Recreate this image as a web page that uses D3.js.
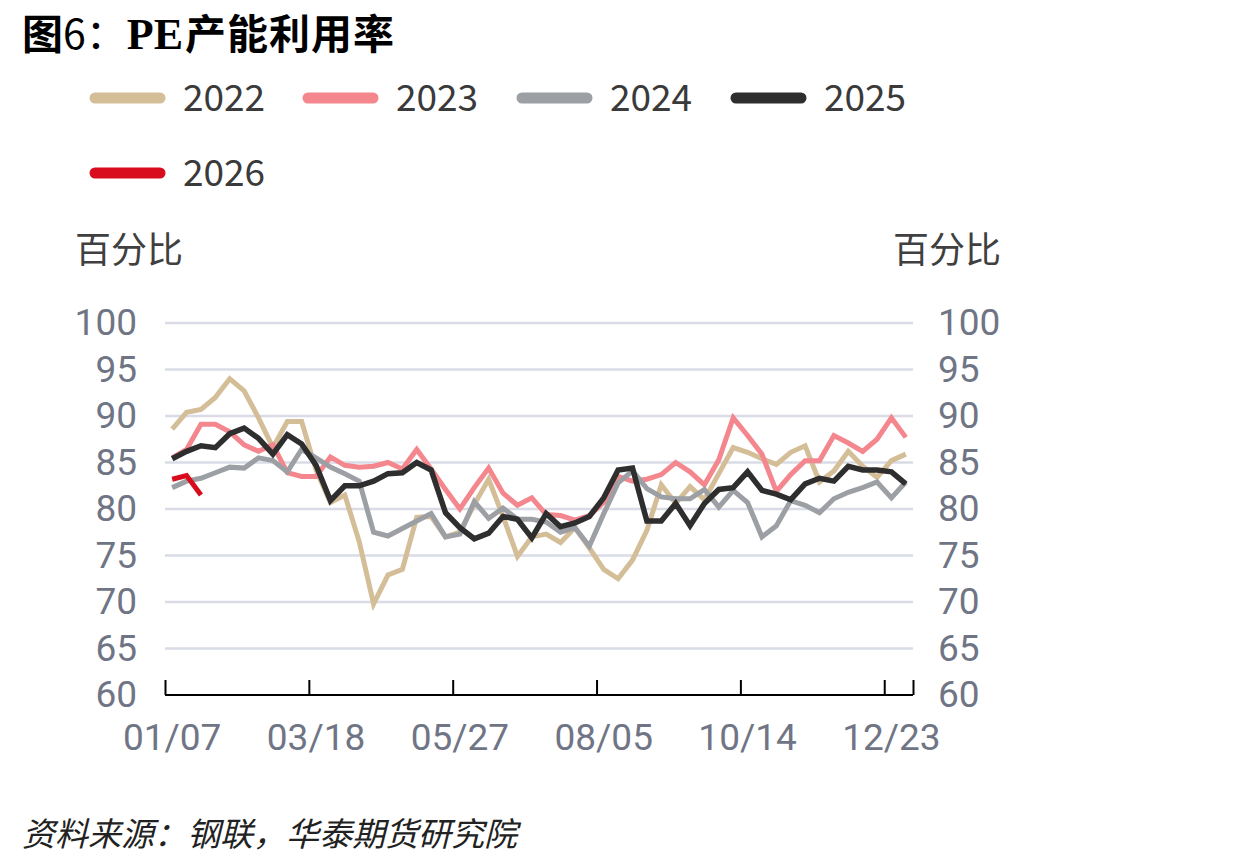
<!DOCTYPE html>
<html><head><meta charset="utf-8">
<script src="https://cdn.jsdelivr.net/npm/d3@7/dist/d3.min.js"></script>
<style>
html,body{margin:0;padding:0;background:#fff;}
svg{display:block;}
</style></head>
<body>
<svg id="chart" width="1240" height="866"></svg>
<script>
const categories = ["01/07","01/14","01/21","01/28","02/04","02/11","02/18","02/25","03/04","03/11","03/18","03/25","04/01","04/08","04/15","04/22","04/29","05/06","05/13","05/20","05/27","06/03","06/10","06/17","06/24","07/01","07/08","07/15","07/22","07/29","08/05","08/12","08/19","08/26","09/02","09/09","09/16","09/23","09/30","10/07","10/14","10/21","10/28","11/04","11/11","11/18","11/25","12/02","12/09","12/16","12/23","12/30"];
const tickLabels = ["01/07","03/18","05/27","08/05","10/14","12/23"];
const yTicks = [60,65,70,75,80,85,90,95,100];
const seriesNames = ["2022","2023","2024","2025","2026"];
const v2022 = [88.6,90.4,90.7,92.0,94.0,92.7,89.8,86.6,89.4,89.4,84.2,80.7,81.5,76.5,69.8,72.9,73.5,79.1,79.2,77.0,77.5,80.5,83.2,79.2,74.9,77.0,77.3,76.4,78.0,75.8,73.5,72.5,74.5,77.7,82.6,80.6,82.4,81.0,83.8,86.6,86.1,85.4,84.8,86.1,86.8,82.9,84.1,86.2,84.6,83.4,85.2,85.9];
const v2023 = [85.5,86.4,89.1,89.1,88.3,86.9,86.2,86.9,83.9,83.5,83.5,85.6,84.7,84.5,84.6,85.0,84.3,86.4,84.3,82.1,80.0,82.3,84.4,81.7,80.4,81.2,79.4,79.3,78.8,79.3,80.7,83.5,83.0,83.2,83.7,85.0,84.0,82.6,85.3,89.8,87.9,85.9,81.9,83.7,85.2,85.2,87.9,87.1,86.2,87.5,89.8,87.7];
const v2024 = [82.3,83.0,83.3,83.9,84.5,84.4,85.5,85.2,84.0,86.4,85.5,84.5,83.8,83.0,77.5,77.1,77.9,78.7,79.5,77.0,77.3,80.8,79.0,80.1,78.9,78.9,78.6,77.5,78.0,76.0,79.5,82.8,84.1,82.2,81.3,81.1,81.1,82.1,80.2,82.0,80.7,77.0,78.2,80.9,80.4,79.6,81.1,81.8,82.3,82.9,81.2,82.9];
const v2025 = [85.4,86.2,86.8,86.6,88.1,88.7,87.6,85.9,88.0,87.0,84.7,80.9,82.5,82.5,83.0,83.8,83.9,85.0,84.2,79.6,78.0,76.8,77.4,79.2,78.9,76.9,79.5,78.1,78.5,79.2,81.2,84.2,84.4,78.7,78.7,80.6,78.2,80.6,82.1,82.3,84.0,82.0,81.6,81.0,82.7,83.3,83.0,84.6,84.2,84.2,84.0,82.7];
const v2026 = [83.2,83.6,81.5];
const colors = ["#D3BE98","#F4868E","#9C9FA3","#2E2E2E","#D80C1C"];

const svg = d3.select("#chart");
const FONT = "'Noto Sans CJK SC','Noto Sans',sans-serif";
const NUMFONT = "Roboto,'Noto Sans',sans-serif";
const pL = 165, pR = 913, pT = 323, pB = 695;

// title
const title = svg.append("text").attr("x",22).attr("y",49)
  .style("font-family",FONT).style("font-size","41px").style("font-weight","bold").attr("fill","#000");
title.append("tspan").text("图");
title.append("tspan").style("font-weight","normal").text("6：");
title.append("tspan").style("font-family","'Liberation Serif',serif").style("font-size","44px").text("PE");
title.append("tspan").attr("dx",2).style("letter-spacing","1px").text("产能利用率");

// legend
const series = [v2022,v2023,v2024,v2025,v2026];
const legendPos = [[90,98],[303,98],[517,98],[731,98],[90,173]];
seriesNames.forEach((n,i)=>{
  const [lx,ly] = legendPos[i];
  svg.append("line").attr("x1",lx+5).attr("x2",lx+70).attr("y1",ly).attr("y2",ly)
    .attr("stroke",colors[i]).attr("stroke-width",11).attr("stroke-linecap","round");
  svg.append("text").attr("x",lx+93).attr("y",ly).attr("dy","0.36em")
    .style("font-family",FONT).style("font-size","37px").attr("fill","#3a3a3a").text(n);
});

// units
svg.append("text").attr("x",75).attr("y",250).attr("dy","0.36em")
  .style("font-family",FONT).style("font-size","36px").attr("fill","#404040").text("百分比");
svg.append("text").attr("x",893).attr("y",250).attr("dy","0.36em")
  .style("font-family",FONT).style("font-size","36px").attr("fill","#404040").text("百分比");

const x = d3.scaleBand().domain(categories).range([pL,pR]).padding(0);
const xIdx = d3.scaleLinear().domain([0,categories.length]).range([pL,pR]);
const y = d3.scaleLinear().domain([60,100]).range([pB,pT]);
const cx = c => x(c) + x.bandwidth()/2;

// gridlines
svg.append("g").selectAll("line").data(yTicks.filter(t=>t>60)).join("line")
  .attr("x1",pL).attr("x2",pR).attr("y1",d=>y(d)).attr("y2",d=>y(d))
  .attr("stroke","#D9DCE6").attr("stroke-width",2.5);

// y labels
const yl = d3.axisLeft(y).tickValues(yTicks).tickSize(0).tickPadding(0);
const gL = svg.append("g").attr("transform",`translate(137,0)`).call(yl);
gL.select(".domain").remove();
gL.selectAll("text").style("font-family",NUMFONT).style("font-size","37px").attr("fill","#707585").attr("x",0);
const yr = d3.axisRight(y).tickValues(yTicks).tickSize(0).tickPadding(0);
const gR = svg.append("g").attr("transform",`translate(938,0)`).call(yr);
gR.select(".domain").remove();
gR.selectAll("text").style("font-family",NUMFONT).style("font-size","37px").attr("fill","#707585").attr("x",0);

// lines
const line = d3.line().x((d,i)=>cx(categories[i])).y(d=>y(d)).curve(d3.curveLinear);
series.forEach((s,i)=>{
  svg.append("path").datum(s).attr("d",line).attr("fill","none")
    .attr("stroke",colors[i]).attr("stroke-width",i===3?5.5:5).attr("stroke-linejoin","miter").attr("stroke-linecap","butt");
});

// x axis baseline and ticks
const xt = d3.axisBottom(xIdx).tickValues([0,10,20,30,40,50,52]).tickSize(-15).tickFormat("");
const gx = svg.append("g").attr("transform",`translate(0,${pB})`).call(xt);
gx.select(".domain").attr("stroke","#000").attr("stroke-width",2).attr("d",`M${pL},0H${pR}`);
gx.selectAll(".tick line").attr("stroke","#000").attr("stroke-width",2);

const xl = d3.axisBottom(x).tickValues(tickLabels).tickSize(0).tickPadding(0);
const gxl = svg.append("g").attr("transform",`translate(0,${pB+29})`).call(xl);
gxl.select(".domain").remove();
gxl.selectAll("text").style("font-family",NUMFONT).style("font-size","37px").attr("fill","#707585").attr("dy","0.71em");

// source
svg.append("text").attr("x",22).attr("y",834).attr("dy","0.36em")
  .style("font-family",FONT).style("font-size","33px").style("font-style","italic").attr("fill","#222")
  .text("资料来源：钢联，华泰期货研究院");
</script>
</body></html>
